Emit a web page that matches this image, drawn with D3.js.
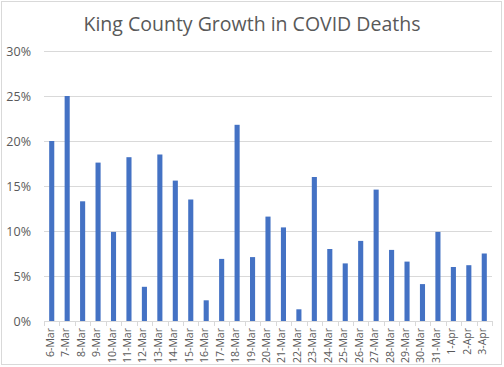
<!DOCTYPE html>
<html>
<head>
  <script src="https://d3js.org/d3.v7.min.js"></script>
  <style>
    body { margin: 0; background: #fff; }
    svg { display: block; font-family: "Open Sans", sans-serif; }
    .tick text { fill: #595959; }
  </style>
</head>
<body>
  <svg id="chart" width="504" height="367"></svg>
  <script>
    // days shown on the x axis
    const days = ['6-Mar', '7-Mar', '8-Mar', '9-Mar', '10-Mar', '11-Mar', '12-Mar', '13-Mar',
      '14-Mar', '15-Mar', '16-Mar', '17-Mar', '18-Mar', '19-Mar', '20-Mar', '21-Mar', '22-Mar',
      '23-Mar', '24-Mar', '25-Mar', '26-Mar', '27-Mar', '28-Mar', '29-Mar', '30-Mar', '31-Mar',
      '1-Apr', '2-Apr', '3-Apr'];

    // daily growth in deaths (fraction)
    const growth = [0.200, 0.250, 0.133, 0.176, 0.099, 0.182, 0.038, 0.185,
      0.156, 0.135, 0.023, 0.069, 0.218, 0.071, 0.116, 0.104, 0.013,
      0.160, 0.080, 0.064, 0.089, 0.146, 0.079, 0.066, 0.041, 0.099,
      0.060, 0.062, 0.075];

    const yTicks = [0, 0.05, 0.10, 0.15, 0.20, 0.25, 0.30];

    const svg = d3.select('#chart');
    const margin = { top: 51, right: 12, bottom: 46, left: 44 };
    const width = 504 - margin.left - margin.right;
    const height = 367 - margin.top - margin.bottom;

    // outer frame
    svg.append('rect')
      .attr('x', 1.5).attr('y', 1.5)
      .attr('width', 500).attr('height', 363)
      .attr('fill', '#fff')
      .attr('stroke', '#d9d9d9');

    svg.append('text')
      .attr('x', 252)
      .attr('y', 31)
      .attr('text-anchor', 'middle')
      .attr('font-size', 19.5)
      .attr('fill', '#595959')
      .text('King County Growth in COVID Deaths');

    const g = svg.append('g')
      .attr('transform', `translate(${margin.left},${margin.top})`);

    const x = d3.scaleBand()
      .domain(days)
      .range([0, width])
      .paddingInner(0.67)
      .paddingOuter(0.335);

    const y = d3.scaleLinear()
      .domain([0, 0.30])
      .range([height, 0]);

    // gridlines
    g.append('g')
      .selectAll('line')
      .data(yTicks.slice(1))
      .enter()
      .append('line')
      .attr('x1', 0)
      .attr('x2', width)
      .attr('y1', d => y(d) + 0.5)
      .attr('y2', d => y(d) + 0.5)
      .attr('stroke', '#d9d9d9')
      .attr('stroke-width', 1);

    // y axis labels only
    const yAxis = g.append('g')
      .call(d3.axisLeft(y).tickValues(yTicks).tickFormat(d3.format('.0%')).tickSize(0).tickPadding(13));
    yAxis.select('.domain').remove();
    yAxis.selectAll('text').attr('font-size', 12.5).attr('font-family', '"Open Sans", sans-serif');

    g.selectAll('.bar')
      .data(growth)
      .enter()
      .append('rect')
      .attr('class', 'bar')
      .attr('x', (d, i) => x(days[i]))
      .attr('width', x.bandwidth())
      .attr('y', d => y(d))
      .attr('height', d => height - y(d))
      .attr('fill', '#4472c4');

    // x axis: baseline plus ticks at category boundaries
    const step = x.step();
    const xAxis = g.append('g')
      .attr('transform', `translate(0,${height})`);
    xAxis.append('line')
      .attr('x1', 0).attr('x2', width)
      .attr('y1', 0.5).attr('y2', 0.5)
      .attr('stroke', '#d9d9d9');
    xAxis.selectAll('.bound')
      .data(d3.range(days.length + 1))
      .enter()
      .append('line')
      .attr('x1', i => Math.round(i * step) + 0.5)
      .attr('x2', i => Math.round(i * step) + 0.5)
      .attr('y1', 0).attr('y2', 5)
      .attr('stroke', '#d9d9d9');
    xAxis.selectAll('.lbl')
      .data(days)
      .enter()
      .append('text')
      .attr('transform', d => `translate(${x(d) + x.bandwidth() / 2 + 2},7) rotate(-90)`)
      .attr('text-anchor', 'end')
      .attr('font-size', 10.5)
      .attr('fill', '#595959')
      .text(d => d);
  </script>
</body>
</html>
